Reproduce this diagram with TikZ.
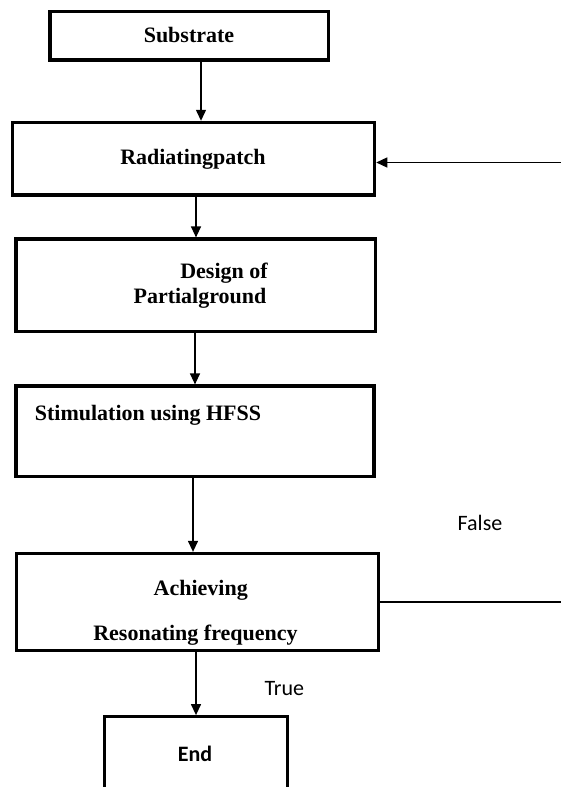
\documentclass[tikz,border=0pt]{standalone}
\usepackage{fontspec}
\setmainfont{Liberation Serif}
\newfontfamily\calibfont{Carlito}
\usetikzlibrary{arrows.meta}
\begin{document}
\begin{tikzpicture}[x=1pt,y=-1pt,
  box/.style={draw=black,line width=3.2pt,inner sep=0pt,minimum width=#1},
  boxtext/.style={font=\fontsize{22}{26}\selectfont\bfseries,inner sep=0pt,anchor=base},
  lbl/.style={font=\calibfont\fontsize{22}{26}\selectfont,inner sep=0pt,anchor=base},
  arr/.style={line width=1.3pt,-{Triangle[length=11pt,width=10pt]}}]
\useasboundingbox (0,0) rectangle (561,787);
\clip (0,0) rectangle (561,787);
% boxes
\node[box=278.5pt,minimum height=48.3pt] (sub) at (189.2,35.8) {};
\node[box=362.3pt,minimum height=72.6pt] (rad) at (193.5,158.7) {};
\node[box=359.8pt,minimum height=92.6pt] (des) at (195.9,285.3) {};
\node[box=358pt,minimum height=90.6pt] (sim) at (195,431.3) {};
\node[box=361.6pt,minimum height=96.9pt] (ach) at (197.5,601.9) {};
\node[box=182.6pt,minimum height=100pt] (end) at (196,766.7) {};
% texts
\node[boxtext] (tsub) at (189,42.5) {Substrate};
\node[boxtext] (trad) at (193,164) {Radiatingpatch};
\node[boxtext] (tdes1) at (224,278.3) {Design of};
\node[boxtext] (tdes2) at (200,303.3) {Partialground};
\node[boxtext,anchor=base west] (tsim) at (34.7,420.7) {Stimulation using HFSS};
\node[boxtext] (tach1) at (200.7,595) {Achieving};
\node[boxtext] (tach2) at (195.5,640) {Resonating frequency};
\node[lbl,font=\calibfont\fontsize{22}{26}\selectfont\bfseries] (tend) at (195,761) {End};
\node[lbl] (tfalse) at (480,530.7) {False};
\node[lbl] (ttrue) at (284.4,695) {True};
% connector positions
\coordinate (x1) at (201,0);
\coordinate (x2) at (196,0);
\coordinate (x3) at (195,0);
\coordinate (x4) at (193,0);
\coordinate (x5) at (196,0);
\coordinate (rin) at (561,162.5);
\coordinate (fout) at (561,602);
% connectors
\draw[arr] (x1 |- sub.south) -- (x1 |- rad.north);
\draw[arr] (x2 |- rad.south) -- (x2 |- des.north);
\draw[arr] (x3 |- des.south) -- (x3 |- sim.north);
\draw[arr] (x4 |- sim.south) -- (x4 |- ach.north);
\draw[arr] (x5 |- ach.south) -- (x5 |- end.north);
\draw[arr] (rin) -- (rad.east |- rin);
\draw[line width=1.8pt] (ach.east |- fout) -- (fout);
\end{tikzpicture}
\end{document}
